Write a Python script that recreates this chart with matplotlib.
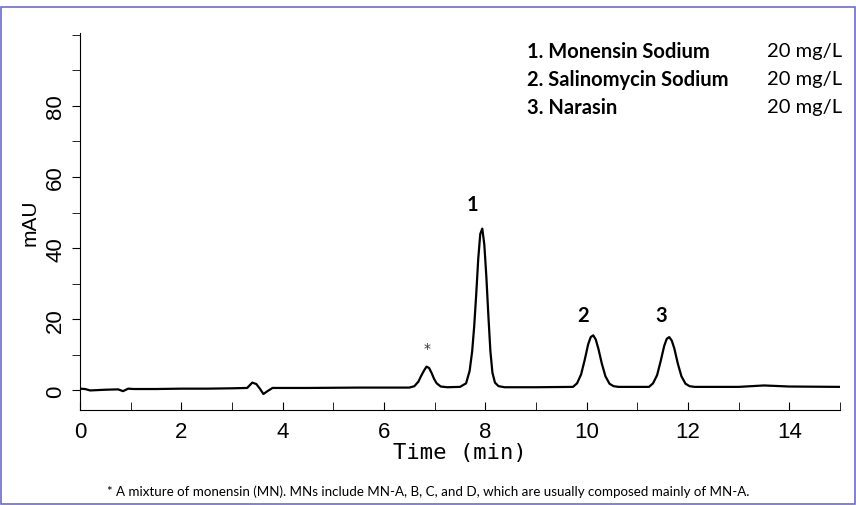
import matplotlib
matplotlib.use("Agg")
import matplotlib.pyplot as plt
from matplotlib.patches import Rectangle

time = [0.0, 0.1, 0.2, 0.5, 0.75, 0.85, 0.95, 1.05, 1.5, 2.0, 2.5, 3.0, 3.3, 3.4, 3.48, 3.55, 3.62, 3.7, 3.8, 4.5, 5.5, 6.5,
        6.6, 6.68, 6.73, 6.79, 6.84, 6.89, 6.94, 6.99, 7.04, 7.12, 7.25,
        7.5, 7.62, 7.69, 7.74, 7.78, 7.82, 7.86, 7.9, 7.94, 7.98, 8.02, 8.06, 8.1, 8.14, 8.19, 8.26, 8.38,
        9.0, 9.73, 9.81, 9.89, 9.96, 10.03, 10.08, 10.13, 10.18, 10.23, 10.3, 10.37, 10.45, 10.53, 10.63,
        11.23, 11.31, 11.39, 11.46, 11.53, 11.58, 11.63, 11.68, 11.73, 11.8, 11.87, 11.95, 12.03, 12.13,
        13.0, 13.5, 14.0, 15.0]
signal = [0.5, 0.4, 0.0, 0.2, 0.3, -0.2, 0.5, 0.4, 0.4, 0.5, 0.5, 0.6, 0.7, 2.2, 1.8, 0.5, -1.0, -0.2, 0.7, 0.7, 0.8, 0.8,
          1.2, 2.5, 4.0, 5.6, 6.7, 6.3, 4.9, 3.2, 2.0, 1.1, 0.9,
          1.0, 2.0, 5.5, 11.0, 18.0, 27.0, 37.0, 44.0, 45.5, 41.0, 32.0, 21.0, 11.0, 5.0, 2.2, 1.2, 0.9,
          0.9, 1.0, 2.0, 4.5, 8.5, 13.0, 15.0, 15.5, 14.3, 11.8, 7.5, 4.0, 1.9, 1.2, 1.0,
          1.0, 2.0, 4.3, 8.2, 12.5, 14.5, 15.0, 14.0, 11.8, 7.5, 4.0, 1.9, 1.2, 1.0,
          1.0, 1.4, 1.1, 1.0]
peak_labels = ["*", "1", "2", "3"]
label_x = [6.85, 7.74, 9.93, 11.48]
label_y = [12.0, 52.5, 21.3, 21.3]
compounds = ["1. Monensin Sodium", "2. Salinomycin Sodium", "3. Narasin"]
concs = ["20 mg/L", "20 mg/L", "20 mg/L"]

fig = plt.figure(figsize=(8.56, 5.06), dpi=100)
fig.patches.append(Rectangle((0.001, 0.001), 0.998, 1 - 9/506, transform=fig.transFigure,
                             fill=False, edgecolor="#6b6bd6", linewidth=1.2))
ax = fig.add_axes([80/856, 95/506, 760/856, 377/506])
ax.plot(time, signal, color="black", lw=1.6)
ax.set_xlim(0, 15)
ax.set_ylim(-5.5, 100.5)
for s in ["top", "right"]:
    ax.spines[s].set_visible(False)
ax.set_xticks(range(0, 16, 2))
ax.set_xticks(range(0, 16), minor=True)
ax.set_yticks(range(0, 81, 20))
ax.set_yticks(range(0, 101, 10), minor=True)
ax.tick_params(axis="x", which="both", direction="in", length=6, labelsize=16, pad=8)
ax.tick_params(axis="y", which="both", direction="out", length=6, labelsize=16, labelrotation=90, pad=4)
for lab in ax.get_xticklabels() + ax.get_yticklabels():
    lab.set_fontfamily("Liberation Sans")
for lab in ax.get_yticklabels():
    lab.set_va("center")
ax.set_xlabel("Time (min)", family="DejaVu Sans Mono", fontsize=16, labelpad=0)
ax.set_ylabel("mAU", family="Liberation Sans", fontsize=15, labelpad=4)

for lab, x, y in zip(peak_labels, label_x, label_y):
    if lab == "*":
        ax.text(x, y, lab, ha="center", va="center", fontsize=10, family="DejaVu Sans", color="#333333")
    else:
        ax.text(x, y, lab, ha="center", va="center", fontsize=14.5, weight="bold", family="Lato")

for i, (c, v) in enumerate(zip(compounds, concs)):
    y = 52 + i * 28
    fig.text(527/856, 1 - y/506, c, fontsize=14.5, weight="bold", family="Lato", va="center")
    fig.text(767/856, 1 - y/506, v, fontsize=14.5, family="Lato", va="center")

fig.text(0.5, 1 - 492/506,
         "* A mixture of monensin (MN). MNs include MN-A, B, C, and D, which are usually composed mainly of MN-A.",
         ha="center", va="center", fontsize=9.6, family="Lato")
fig.savefig("out.png", dpi=100)
